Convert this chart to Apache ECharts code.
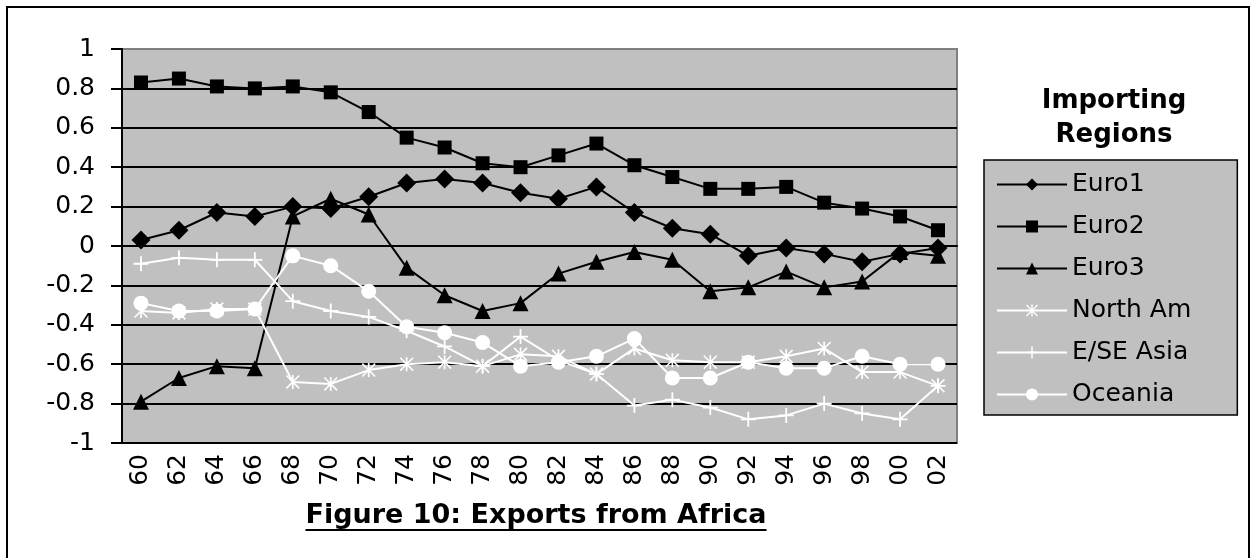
<!DOCTYPE html>
<html>
<head>
<meta charset="utf-8">
<script src="https://cdn.jsdelivr.net/npm/echarts@6/dist/echarts.min.js"></script>
<style>
  html, body { margin: 0; padding: 0; background: #fff; }
  #chart { width: 1252px; height: 558px; }
</style>
</head>
<body>
<div id="chart"></div>
<script>
// data
var years = ["60", "62", "64", "66", "68", "70", "72", "74", "76", "78", "80",
  "82", "84", "86", "88", "90", "92", "94", "96", "98", "00", "02"];
var euro1 = [0.03, 0.08, 0.17, 0.15, 0.20, 0.19, 0.25, 0.32, 0.34, 0.32, 0.27,
  0.24, 0.30, 0.17, 0.09, 0.06, -0.05, -0.01, -0.04, -0.08, -0.04, -0.01];
var euro2 = [0.83, 0.85, 0.81, 0.80, 0.81, 0.78, 0.68, 0.55, 0.50, 0.42, 0.40,
  0.46, 0.52, 0.41, 0.35, 0.29, 0.29, 0.30, 0.22, 0.19, 0.15, 0.08];
var euro3 = [-0.79, -0.67, -0.61, -0.62, 0.15, 0.24, 0.16, -0.11, -0.25, -0.33, -0.29,
  -0.14, -0.08, -0.03, -0.07, -0.23, -0.21, -0.13, -0.21, -0.18, -0.03, -0.05];
var northAm = [-0.33, -0.34, -0.32, -0.32, -0.69, -0.70, -0.63, -0.60, -0.59, -0.61, -0.55,
  -0.56, -0.65, -0.52, -0.58, -0.59, -0.59, -0.56, -0.52, -0.64, -0.64, -0.71];
var eseAsia = [-0.09, -0.06, -0.07, -0.07, -0.28, -0.33, -0.36, -0.43, -0.51, -0.61, -0.46,
  -0.58, -0.65, -0.81, -0.78, -0.82, -0.88, -0.86, -0.80, -0.85, -0.88, -0.71];
var oceania = [-0.29, -0.33, -0.33, -0.32, -0.05, -0.10, -0.23, -0.41, -0.44, -0.49, -0.61,
  -0.59, -0.56, -0.47, -0.67, -0.67, -0.59, -0.62, -0.62, -0.56, -0.60, -0.60];

var FONT = "DejaVu Sans";
var titleText = "Figure 10: Exports from Africa";

// marker shapes for the white series
var asterisk = "path://M4.4,0L5.6,0L5.6,10L4.4,10Z M0.8,0L10,9.2L9.2,10L0,0.8Z M9.2,0L10,0.8L0.8,10L0,9.2Z";
var plus = "path://M4.4,0L5.6,0L5.6,10L4.4,10Z M0,4.4L10,4.4L10,5.6L0,5.6Z";

// measure title so the underline fits it
var titleFont = "bold 27px " + FONT;
var cv = document.createElement("canvas").getContext("2d");
cv.font = titleFont;
var titleW = cv.measureText(titleText).width;
var titleX = 536;

function line(name, data, color, symbol, size) {
  return {
    name: name,
    type: "line",
    data: data,
    symbol: symbol,
    symbolSize: size,
    showAllSymbol: true,
    lineStyle: { color: color, width: 2 },
    itemStyle: { color: color, borderWidth: 0 },
  };
}

var myChart = echarts.init(document.getElementById("chart"));

var option = {
  animation: false,
  title: {
    text: "Importing\nRegions",
    left: 1109,
    top: 79,
    textAlign: "center",
    textStyle: {
      fontFamily: FONT,
      fontWeight: "bold",
      fontSize: 26,
      lineHeight: 34,
      color: "#000",
    },
  },
  legend: {
    orient: "vertical",
    left: 984,
    top: 160,
    padding: [12, 46, 8, 12],
    itemWidth: 70,
    itemHeight: 15,
    itemGap: 17,
    itemTextGap: 12,
    backgroundColor: "#c0c0c0",
    borderColor: "#000",
    borderWidth: 1.5,
    textStyle: { fontFamily: FONT, fontSize: 25, lineHeight: 25, color: "#000" },
    data: ["Euro1", "Euro2", "Euro3", "North Am", "E/SE Asia", "Oceania"],
  },
  grid: {
    left: 122,
    top: 49,
    right: 295,
    bottom: 115,
    show: true,
    backgroundColor: "#c0c0c0",
    borderColor: "#808080",
    borderWidth: 2,
  },
  xAxis: {
    type: "category",
    data: years,
    boundaryGap: true,
    axisLine: { lineStyle: { color: "#000", width: 2 } },
    axisTick: { interval: 0, length: 8, lineStyle: { color: "#000", width: 2 } },
    axisLabel: {
      interval: 0,
      rotate: 90,
      margin: 11,
      fontFamily: FONT,
      fontSize: 25,
      color: "#000",
    },
  },
  yAxis: {
    type: "value",
    min: -1,
    max: 1,
    interval: 0.2,
    axisLine: { show: true, lineStyle: { color: "#000", width: 2 } },
    axisTick: { show: true, length: 11, lineStyle: { color: "#000", width: 2 } },
    axisLabel: { margin: 27, fontFamily: FONT, fontSize: 25, color: "#000" },
    splitLine: { showMaxLine: false, lineStyle: { color: "#000", width: 2 } },
  },
  graphic: [
    {
      type: "rect",
      silent: true,
      shape: { x: 7, y: 7, width: 1242, height: 600 },
      style: { fill: null, stroke: "#000", lineWidth: 2 },
      z: 100,
    },
    {
      type: "text",
      x: titleX,
      y: 516,
      style: {
        text: titleText,
        font: titleFont,
        fill: "#000",
        align: "center",
        verticalAlign: "middle",
      },
    },
    {
      type: "line",
      shape: { x1: titleX - titleW / 2, y1: 530, x2: titleX + titleW / 2, y2: 530 },
      style: { stroke: "#000", lineWidth: 2 },
    },
  ],
  series: [
    line("Euro1", euro1, "#000", "diamond", 19),
    line("Euro2", euro2, "#000", "rect", 14),
    line("Euro3", euro3, "#000", "triangle", 16),
    line("North Am", northAm, "#fff", asterisk, 14),
    line("E/SE Asia", eseAsia, "#fff", plus, 15),
    line("Oceania", oceania, "#fff", "circle", 15),
  ],
};

myChart.setOption(option);
</script>
</body>
</html>
